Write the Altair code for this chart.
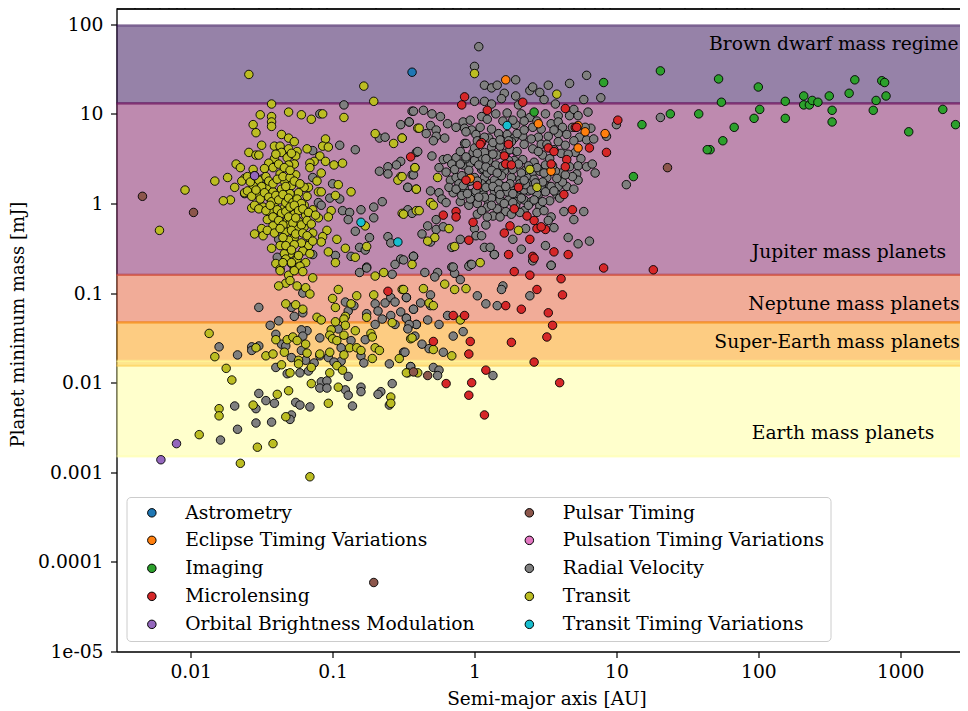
import altair as alt
import pandas as pd

# All pairs are (log10 semi-major axis [AU], log10 minimum mass [mJ]).
astrometry = [(-0.44,1.465)]
etv = [(0.22,1.38),(0.45,0.89),(0.73,0.87),(0.78,0.80),(0.92,0.78),(0.73,0.62),(0.54,0.36),(-0.03,0.28)]
imaging = [(1.31,1.48),(1.72,1.39),(2.00,1.30),(1.74,1.13),(1.38,1.00),(1.58,1.00),(2.01,1.05),(1.97,0.95),(1.83,0.85),(1.75,0.70),(1.66,0.60),(1.64,0.60),(1.18,0.88),(2.19,1.14),(2.19,0.95),(2.32,1.20),(2.32,1.10),(2.36,1.10),(2.38,1.15),(2.42,1.13),(2.50,1.20),(2.52,1.04),(2.52,0.91),(2.64,1.23),(2.68,1.38),(2.87,1.37),(2.89,1.35),(2.90,1.20),(2.83,1.15),(2.81,1.04),(3.30,1.05),(3.39,0.88),(3.06,0.80),(0.91,1.35),(1.12,0.30),(0.42,1.02)]
microlensing = [(-0.07,1.19),(-0.09,1.10),(0.09,1.04),(0.34,1.13),(0.64,1.06),(1.01,0.93),(0.71,0.85),(0.72,0.85),(0.05,0.68),(0.04,0.66),(0.24,0.66),(0.52,0.62),(0.56,0.58),(0.81,0.62),(0.93,0.57),(0.21,0.53),(0.22,0.44),(0.26,0.43),(0.65,0.49),(0.54,0.44),(0.64,0.41),(-0.45,0.52),(-0.06,0.26),(0.02,0.20),(0.31,0.18),(0.63,0.10),(0.69,-0.07),(0.28,-0.06),(0.37,-0.14),(0.42,-0.19),(-0.22,-0.13),(-0.13,-0.09),(-0.13,-0.15),(-0.01,-0.21),(0.25,-0.25),(0.21,-0.33),(0.44,-0.28),(0.50,-0.29),(0.47,-0.26),(0.39,-0.40),(-0.04,-0.41),(0.56,-0.54),(0.24,-0.57),(0.41,-0.59),(0.42,-0.61),(0.66,-0.57),(0.28,-0.76),(0.91,-0.72),(1.26,-0.74),(-0.61,-0.98),(0.39,-0.80),(0.61,-0.84),(0.44,-0.96),(0.62,-1.02),(0.22,-1.14),(0.33,-1.18),(0.52,-1.22),(-0.15,-1.25),(-0.07,-1.25),(0.55,-1.36),(0.51,-1.49),(-0.29,-1.54),(-0.03,-1.54),(0.26,-1.55),(-0.04,-1.68),(0.42,-1.77),(0.08,-1.86),(-0.20,-2.01),(-0.02,-2.00),(0.60,-2.00),(-0.04,-2.14),(0.07,-2.36)]
obm = [(-1.55,0.31),(-2.10,-2.68),(-2.21,-2.86)]
pulsar = [(-2.34,0.08),(-1.98,-0.10),(1.36,0.40),(-0.71,-4.23),(-0.43,-1.88),(-0.33,-1.92)]
pulsation = [(0.25,0.52)]
ttv = [(0.23,0.87),(-0.80,-0.21),(-0.54,-0.43)]
transit = [(-1.59,1.44),(-0.78,1.31),(-0.71,1.14),(-1.43,1.11),(-1.51,0.99),(-1.43,0.97),(-1.43,0.91),(-1.43,0.86),(-1.56,0.88),(-1.54,0.79),(-1.31,1.02),(-1.22,0.99),(-1.15,0.94),(-1.07,1.00),(-0.92,0.96),(-1.36,0.77),(-1.31,0.73),(-1.27,0.69),(-1.50,0.65),(-1.59,0.57),(-1.54,0.54),(-1.52,0.54),(-1.41,0.64),(-1.37,0.64),(-1.31,0.61),(-1.25,0.58),(-1.36,0.57),(-1.26,0.53),(-1.32,0.51),(-1.41,0.50),(-1.45,0.45),(-1.18,0.61),(-1.05,0.72),(-1.07,0.64),(-1.03,0.63),(-1.09,0.53),(-1.13,0.47),(-1.16,0.45),(-1.05,0.47),(-1.16,0.40),(-0.99,0.43),(-0.93,0.45),(-1.27,0.44),(-1.31,0.43),(-1.68,0.44),(-1.65,0.40),(-1.56,0.38),(-1.48,0.39),(-1.37,0.33),(-1.26,0.32),(-1.74,0.29),(-1.83,0.25),(-1.08,0.34),(-1.11,0.25),(-0.96,0.21),(-1.62,0.28),(-1.64,0.25),(-1.56,0.20),(-1.46,0.19),(-1.34,0.25),(-1.69,0.18),(-1.29,0.20),(-1.17,0.18),(-1.20,0.18),(-1.10,0.13),(-1.08,0.13),(-0.87,0.13),(-0.98,0.09),(-1.36,0.16),(-1.42,0.13),(-1.62,0.12),(-1.56,0.10),(-1.52,0.10),(-1.72,0.04),(-1.77,0.03),(-2.04,0.15),(-2.22,-0.30),(-1.57,-0.05),(-1.49,-0.04),(-1.41,-0.03),(-1.34,-0.05),(-1.27,0.07),(-1.24,0.12),(-1.30,0.11),(-1.20,-0.02),(-1.14,-0.07),(-1.01,-0.08),(-1.10,-0.16),(-1.03,-0.15),(-1.19,-0.13),(-1.27,-0.12),(-1.40,-0.14),(-1.44,-0.09),(-1.32,-0.19),(-1.24,-0.20),(-1.30,-0.23),(-1.42,-0.25),(-1.50,-0.28),(-1.55,-0.34),(-1.49,-0.36),(-1.33,-0.32),(-1.24,-0.28),(-1.14,-0.33),(-1.20,-0.26),(-1.04,-0.30),(-1.27,-0.38),(-1.16,-0.39),(-1.07,-0.37),(-0.97,-0.40),(-1.08,-0.43),(-1.31,-0.41),(-1.37,-0.47),(-1.43,-0.50),(-1.17,-0.47),(-1.21,-0.53),(-1.03,-0.54),(-0.91,-0.50),(-0.76,-0.48),(-0.84,-0.60),(-0.98,-0.66),(-1.30,-0.56),(-1.34,-0.56),(-1.25,-0.62),(-1.19,-0.66),(-1.40,-0.67),(-1.27,-0.73),(-1.37,-0.73),(-1.23,-0.70),(-0.77,-0.25),(-0.51,-0.11),(-0.41,-0.08),(-0.52,0.30),(-0.54,0.26),(-0.42,0.40),(-0.41,0.16),(-0.70,0.78),(-0.57,0.67),(-0.51,0.73),(-0.40,0.84),(-0.44,-0.68),
(-1.37,-0.75),(-1.31,-0.80),(-1.27,-0.75),(-1.14,-0.83),(-1.33,-0.89),(-1.38,-0.92),(-1.25,-0.92),(-1.19,-0.94),(-1.16,-1.01),(-0.96,-0.96),(-1.00,-1.06),(-0.83,-1.03),(-0.71,-1.02),(-0.51,-0.96),(-0.70,-0.81),(-0.64,-0.77),(-1.33,-1.12),(-1.26,-1.13),(-1.21,-1.18),(-0.98,-1.16),(-0.87,-1.12),(-1.11,-1.27),(-1.08,-1.30),(-0.98,-1.32),(-0.91,-1.26),(-0.92,-1.29),(-0.76,-1.27),(-0.58,-1.33),(-0.91,-1.36),(-1.01,-1.41),(-1.02,-1.47),(-1.87,-1.45),(-0.84,-1.42),(-0.92,-1.47),(-0.73,-1.45),(-0.72,-1.49),(-0.45,-1.51),(-1.40,-1.52),(-1.32,-1.52),(-1.28,-1.49),(-1.25,-1.53),(-1.19,-1.57),(-1.00,-1.51),(-0.97,-1.53),(-1.54,-1.61),(-0.88,-1.61),(-0.83,-1.61),(-0.80,-1.64),(-0.70,-1.61),(-0.67,-1.64),(-1.34,-1.66),(-1.18,-1.67),(-1.09,-1.68),(-1.02,-1.66),(-0.92,-1.69),(-1.47,-1.70),(-1.42,-1.68),(-1.83,-1.71),(-0.72,-1.73),(-0.53,-1.73),(-1.24,-1.75),(-1.24,-1.79),(-1.36,-1.80),(-1.15,-1.83),(-0.97,-1.81),(-0.93,-1.86),(-1.02,-1.89),(-1.30,-1.89),(-1.75,-1.84),(-1.71,-1.97),(-0.47,-1.89),(-1.15,-2.01),(-0.96,-2.05),(-1.31,-2.09),(-1.39,-2.13),(-0.59,-2.16),(-0.59,-2.23),(-1.03,-2.23),(-1.56,-2.25),(-1.80,-2.29),(-1.80,-2.37),(-1.33,-2.38),(-1.94,-2.58),(-1.53,-2.72),(-1.42,-2.68),(-1.65,-2.90),(-1.16,-3.05),
(0.04,-0.66),(-0.21,-0.90),(-0.14,-0.96),(-0.06,-0.95),(-0.36,-0.95),(-0.50,-0.96),(-0.32,-1.11),(-0.29,-1.14),(-0.10,-1.30),(-0.44,-1.50),(-0.29,-1.63),(-0.16,-1.70),(-0.48,-1.89),(-0.40,-1.89),
(0.00,1.45),(0.58,1.22),(-0.39,0.84),(-0.51,0.73),(-0.42,0.40),(-0.26,0.29),(0.39,0.38),(0.44,0.18),(-0.41,0.16),(-0.51,0.30),(-0.31,0.01),(-0.29,-0.02),(-0.39,-0.08),(-0.50,-0.12),(-0.18,-0.28),(0.31,-0.30),(-0.28,-0.38),(-0.33,-0.42),(-0.14,-0.48),
(-1.60,0.30),(-1.58,0.24),(-1.55,0.31),(-1.52,0.26),(-1.50,0.19),(-1.47,0.30),(-1.45,0.25),(-1.42,0.22),(-1.39,0.27),(-1.35,0.30),(-1.33,0.19),(-1.30,0.29),(-1.27,0.25),(-1.23,0.22),(-1.60,0.14),(-1.57,0.08),(-1.54,0.15),(-1.51,0.05),(-1.48,0.12),(-1.45,0.07),(-1.43,0.02),(-1.40,0.09),(-1.38,0.04),(-1.35,0.10),(-1.33,0.01),(-1.31,0.06),(-1.28,0.01),(-1.25,0.05),(-1.22,0.00),(-1.18,0.08),(-1.55,-0.02),(-1.52,-0.06),(-1.47,-0.08),(-1.44,-0.02),(-1.39,-0.07),(-1.36,-0.11),(-1.33,-0.09),(-1.30,-0.04),(-1.27,-0.02),(-1.24,-0.08),(-1.21,-0.06),(-1.17,-0.10),(-1.46,-0.18),(-1.42,-0.15),(-1.38,-0.19),(-1.35,-0.24),(-1.31,-0.15),(-1.28,-0.22),(-1.26,-0.16),(-1.22,-0.24),(-1.18,-0.19),(-1.15,-0.23),(-1.12,-0.13),(-1.46,-0.30),(-1.41,-0.33),(-1.37,-0.28),(-1.35,-0.38),(-1.29,-0.30),(-1.26,-0.34),(-1.21,-0.33),(-1.18,-0.36),(-1.14,-0.42),(-1.22,-0.44),(-1.27,-0.46),(-1.33,-0.47),(-1.29,-0.52),(-1.24,-0.58),(-1.16,-0.56),(-1.33,-0.62),(-1.29,-0.66),(-1.35,-0.66),(-1.21,-0.76),(-1.30,-0.86),(-1.42,0.40),(-1.38,0.44),(-1.34,0.40),(-1.30,0.37),(-1.40,0.55),(-1.29,0.56)]
radial_velocity = [(-0.92,1.10),(-1.09,1.00),(-0.44,1.03),(-0.52,0.88),(-0.46,0.91),(-0.67,0.73),(-0.63,0.74),(-0.95,0.65),(-0.84,0.60),(-1.14,0.59),(-0.41,0.57),(-0.52,0.47),(-0.55,0.43),(-0.61,0.41),(-0.67,0.36),(-0.61,0.33),(-0.44,0.32),(-0.47,0.18),(-1.14,0.29),(-1.49,0.28),(-1.00,0.22),(-1.02,0.06),(-0.95,0.05),(-1.10,0.01),(-1.08,-0.02),(-0.65,0.02),(-0.71,-0.04),(-0.80,-0.07),(-0.93,-0.08),(-0.88,-0.10),(-0.89,-0.18),(-0.71,-0.16),(-0.47,-0.07),(-0.44,-0.11),(-0.84,-0.31),(-0.74,-0.38),(-0.61,-0.37),(-0.59,-0.44),(-0.81,-0.49),(-0.77,-0.52),(-0.87,-0.59),(-0.98,-0.58),(-1.14,-0.57),(-1.38,-0.34),(-1.38,-0.40),(-1.39,-0.60),(-1.29,-0.67),(-0.43,-0.59),(-0.52,-0.62),(-0.56,-0.68),(-0.76,-0.71),(-0.81,-0.77),(-1.62,0.11),(-1.17,-0.47),
(-0.76,-0.72),(-0.58,-0.79),(-1.52,-1.16),(-1.29,-1.16),(-1.27,-1.26),(-1.21,-1.22),(-1.21,-1.00),(-0.91,-1.10),(-0.89,-1.20),(-0.85,-1.14),(-0.70,-1.12),(-0.63,-1.11),(-0.59,-1.05),(-0.56,-1.10),(-0.48,-1.05),(-0.43,-1.18),(-0.68,-1.20),(-0.76,-1.23),(-0.52,-1.21),(-0.59,-1.25),(-0.48,-1.28),(-0.65,-1.29),(-0.70,-1.35),(-0.56,-1.35),(-0.46,-1.36),(-0.41,-1.35),(-1.44,-1.36),(-1.38,-1.31),(-1.18,-1.42),(-1.22,-1.41),(-1.40,-1.46),(-1.80,-1.60),(-1.67,-1.69),(-1.57,-1.60),(-1.57,-1.64),(-1.52,-1.59),(-1.36,-1.57),(-1.33,-1.59),(-1.21,-1.48),(-1.09,-1.50),(-0.96,-1.40),(-0.87,-1.53),(-0.94,-1.61),(-1.22,-1.64),(-1.29,-1.72),(-1.19,-1.75),(-1.13,-1.78),(-1.09,-1.70),(-1.03,-1.72),(-0.94,-1.76),(-0.99,-1.77),(-0.77,-1.52),(-0.80,-1.70),(-0.78,-1.78),(-0.60,-1.79),(-0.50,-1.66),(-1.40,-1.83),(-1.32,-1.90),(-1.23,-1.89),(-1.17,-1.87),(-0.89,-1.93),(-0.45,-1.82),(-1.08,-1.99),(-1.04,-1.98),(-1.09,-2.06),(-1.04,-2.06),(-0.91,-2.08),(-0.80,-2.05),(-0.80,-2.10),(-0.89,-2.14),(-0.58,-2.01),(-0.66,-2.10),(-0.68,-2.13),(-1.52,-2.12),(-1.47,-2.20),(-1.41,-2.23),(-1.26,-2.22),(-1.23,-2.25),(-1.16,-2.27),(-0.86,-2.26),(-0.60,-2.25),(-1.69,-2.26),(-1.54,-2.29),(-1.29,-2.36),(-1.30,-2.41),(-1.54,-2.45),(-1.43,-2.44),(-1.67,-2.52),(-1.79,-2.64),
(-0.43,-0.59),(0.14,-0.57),(0.41,-0.64),(0.54,-0.69),(-0.16,-0.71),(-0.03,-0.68),(-0.04,-0.70),(-0.35,-0.77),(-0.26,-0.77),(-0.28,-0.82),(-0.14,-0.78),(-0.10,-0.85),(0.20,-0.92),(0.19,-0.96),(0.02,-1.03),(-0.31,-1.02),(-0.48,-1.05),(0.39,-1.03),(0.08,-1.12),(0.16,-1.14),(-0.38,-1.11),(-0.43,-1.18),(-0.19,-1.25),(-0.48,-1.28),(-0.33,-1.30),(-0.25,-1.35),(-0.41,-1.35),(-0.46,-1.35),(-0.47,-1.40),(-0.08,-1.43),(-0.15,-1.48),(-0.42,-1.48),(-0.37,-1.57),(-0.32,-1.62),(-0.22,-1.66),(-0.49,-1.66),(-0.45,-1.82),(-0.29,-1.83),(-0.25,-1.86),(-0.26,-1.92),(0.13,-1.92),(-0.31,-1.14),
(0.03,1.75),(0.00,1.53),(0.29,1.38),(0.07,1.32),(0.12,1.29),(0.16,1.32),(0.21,1.23),(0.19,1.17),(0.29,1.20),(0.39,1.26),(0.41,1.30),(0.46,1.24),(0.49,1.16),(0.52,1.32),(0.67,1.34),(0.79,1.43),(0.77,1.16),(0.89,1.18),(0.57,1.11),(0.00,1.14),(0.07,1.14),(0.12,1.11),(0.31,1.10),(0.33,1.00),(0.23,1.01),(0.15,1.00),(0.05,0.97),(0.09,0.94),(-0.43,1.03),(-0.36,1.04),(-0.30,1.00),(-0.24,0.97),(-0.46,0.91),(-0.31,0.87),(-0.27,0.82),(-0.34,0.78),(-0.21,0.73),(-0.27,0.75),(-0.29,0.70),(-0.19,0.89),(-0.13,0.85),(-0.08,0.91),(-0.03,0.93),(-0.07,0.84),(-0.02,0.82),(0.01,0.77),(0.04,0.85),(0.12,0.83),(-0.07,0.67),(-0.06,0.67),(-0.40,0.58),(-0.30,0.53),(-0.22,0.49),(-0.19,0.50),(-0.13,0.51),(-0.16,0.44),(-0.08,0.43),(-0.03,0.45),(-0.01,0.57),(0.12,0.63),(0.04,0.50),(0.05,0.38),(0.10,0.48),(0.15,0.43),(0.16,0.54),(-0.43,0.32),(-0.47,0.18),(-0.17,0.26),(-0.13,0.29),(-0.11,0.22),(-0.07,0.16),(-0.31,0.14),(-0.25,0.12),(-0.23,0.05),(-0.20,0.01),(-0.15,0.12),(-0.10,0.02),(-0.04,-0.02),(0.02,0.00),(0.02,-0.12),(-0.02,0.11),(0.06,0.11),(0.10,0.01),(0.15,0.09),(0.11,0.22),(0.07,0.29),(0.14,0.26),(0.21,0.36),(0.20,0.19),(0.24,0.04),(0.30,0.09),(0.35,0.04),(0.38,0.14),(0.45,0.10),(0.53,0.19),(0.59,0.19),
(0.29,0.88),(0.23,0.77),(0.28,0.73),(0.34,0.75),(0.35,0.66),(0.41,0.61),(0.45,0.74),(0.41,0.85),(0.39,0.96),(0.50,1.00),(0.54,0.89),(0.59,0.98),(0.59,0.91),(0.62,0.85),(0.59,0.78),(0.67,0.98),(0.70,1.05),(0.73,0.98),(0.80,1.02),(0.82,0.84),(0.74,0.74),(0.79,0.71),(0.84,0.72),(0.93,0.75),(1.00,0.88),(0.47,0.66),(0.59,0.69),(0.64,0.65),(0.61,0.56),(0.71,0.57),(0.75,0.50),(0.48,0.54),(0.42,0.46),(0.34,0.49),(0.28,0.48),(0.41,0.35),(0.32,0.27),(0.26,0.29),(0.37,0.29),(0.50,0.43),(0.67,0.41),(0.73,0.42),(0.79,0.41),(0.83,0.44),(0.85,0.34),(0.72,0.33),(0.61,0.34),(0.65,0.19),(0.70,0.16),(0.73,0.26),(0.51,0.29),(0.54,0.19),(0.47,0.18),(0.44,0.11),(0.39,0.22),(0.26,0.15),(0.14,0.14),(0.04,0.18),(0.06,0.39),(0.19,0.31),(0.25,0.22),(0.32,0.16),(0.35,0.15),(0.46,-0.03),(0.53,0.03),(0.16,-0.06),(0.22,-0.09),(0.13,-0.14),(0.08,-0.24),(-0.33,-0.25),(-0.27,-0.18),(-0.27,-0.29),(-0.22,-0.26),(-0.37,-0.34),(-0.31,-0.43),(-0.10,-0.40),(0.00,-0.28),(0.01,-0.36),(0.05,-0.36),(0.56,-0.27),(0.54,-0.15),(0.52,-0.19),(0.63,-0.09),(0.77,-0.09),(0.70,-0.18),(0.66,-0.38),(0.73,-0.45),(0.81,-0.42),(0.27,-0.40),(0.36,-0.28),(0.50,-0.47),(0.33,-0.51),(0.07,-0.49),(0.11,-0.49),(0.14,-0.57),(-0.16,-0.49),(0.54,-0.69),(-0.50,-0.63),(-0.43,-0.59),(-0.15,-0.71),(-0.02,-0.68),(1.31,0.96),(1.07,0.21),
(0.00,0.29),(-0.04,0.37),(-0.09,0.31),(0.05,0.22),(0.01,0.14),(-0.05,0.24),(0.09,0.34),(0.17,0.22),(0.12,0.06),(0.18,0.04),(0.23,0.13),(0.30,0.02),(0.36,0.21),(0.42,0.27),(0.46,0.36),(0.48,0.24),(0.57,0.36),(0.62,0.24),(0.69,0.30),(0.36,0.37),(0.31,0.44),(0.22,0.56),(0.18,0.64),(0.25,0.60),(0.07,0.57),(0.00,0.62),(0.30,0.58),(0.45,0.58),(0.52,0.75),(0.40,0.72),(0.53,0.50),(0.66,0.55),(0.10,0.73),(0.17,0.78),(0.07,0.07),(0.40,0.02),(0.29,-0.03),(0.35,-0.08),(-0.03,0.05),(0.58,0.10),
(-0.25,0.40),(-0.20,0.35),(-0.14,0.38),(-0.10,0.44),(-0.06,0.50),(0.00,0.48),(0.03,0.43),(0.08,0.41),(0.12,0.37),(0.16,0.34),(0.20,0.42),(0.24,0.48),(0.27,0.38),(0.33,0.34),(0.38,0.42),(0.44,0.40),(0.49,0.34),(0.55,0.42),(0.58,0.28),(0.64,0.32),(-0.18,0.18),(-0.13,0.16),(-0.08,0.20),(-0.03,0.25),(0.02,0.25),(0.08,0.18),(0.13,0.19),(0.17,0.15),(0.22,0.19),(0.27,0.11),(0.32,0.22),(0.35,0.26),(0.40,0.15),(0.43,0.23),(0.50,0.13),(0.56,0.14),(0.60,0.06),(-0.09,0.09),(-0.05,0.11),(0.03,0.07),(0.09,-0.04),(0.12,-0.02),(0.18,0.10),(0.21,0.00),(0.27,0.01),(0.33,0.06),(0.38,-0.02),(0.42,0.04),(0.48,0.02),(0.05,-0.08),(0.09,-0.15),(0.18,-0.15),(0.26,-0.12),(0.32,-0.10),(0.44,-0.10),(0.49,-0.08),(-0.06,0.80),(0.02,0.70),(0.07,0.74),(0.13,0.68),(0.18,0.71),(0.26,0.69),(0.30,0.78),(0.35,0.82),(0.20,0.92),(0.27,0.93),(0.35,0.92),(0.44,0.92),(0.47,0.83),(0.56,0.82),(0.51,0.66),(0.56,0.60),(0.65,0.77),(0.70,0.70),(0.69,0.85),(0.78,0.85),(0.08,0.50),(0.13,0.55),(-0.10,0.58),(-0.06,0.52),(0.02,0.56),(0.24,0.70)]

ORDER = ["Astrometry","Eclipse Timing Variations","Imaging","Microlensing","Orbital Brightness Modulation","Pulsar Timing","Pulsation Timing Variations","Radial Velocity","Transit","Transit Timing Variations"]
COLORS = ["#1f77b4","#ff7f0e","#2ca02c","#d62728","#9467bd","#8c564b","#e377c2","#7f7f7f","#bcbd22","#17becf"]

draw = [("Pulsation Timing Variations",pulsation),("Radial Velocity",radial_velocity),("Transit",transit),
        ("Astrometry",astrometry),("Eclipse Timing Variations",etv),("Imaging",imaging),("Microlensing",microlensing),
        ("Orbital Brightness Modulation",obm),("Pulsar Timing",pulsar),("Transit Timing Variations",ttv)]
rows = [{"a":10**p[0],"m":10**p[1],"method":n} for n,pts in draw for p in pts]
df = pd.DataFrame(rows)

band_top = [97,13.1,0.16,0.047,0.0175]
band_low = [13.1,0.16,0.047,0.0154,0.0015]
band_col = ["#2D0551","#7D155F","#E35931","#FB9905","#FFFF99"]
bands = pd.DataFrame({"x0":[1e-4]*5,"x1":[1e5]*5,"top":band_top,"low":band_low,"c":band_col})

label_text = ["Brown dwarf mass regime","Jupiter mass planets","Neptune mass planets","Super-Earth mass planets","Earth mass planets"]
label_a = [45,90,85,49,90]
label_m = [60,0.29,0.076,0.0286,0.00275]
labels = pd.DataFrame({"a":label_a,"m":label_m,"t":label_text})

XDOM=[0.003,2638]
YDOM=[1e-5,150]
FONT="DejaVu Serif"
FS=18.7
xs=alt.Scale(type="log",domain=XDOM,nice=False)
ys=alt.Scale(type="log",domain=YDOM,nice=False)
xmajor=[0.01,0.1,1,10,100,1000]
xminor=[k*10**d for d in range(-3,4) for k in range(2,10)]
xminor=[v for v in xminor if XDOM[0]<=v<=XDOM[1]]
yticks=[1e-5,1e-4,1e-3,1e-2,1e-1,1,10,100]
yminor=[k*10**d for d in range(-5,3) for k in range(2,10)]
yminor=[v for v in yminor if YDOM[0]<=v<=YDOM[1]]

common=dict(labelFont=FONT,titleFont=FONT,labelFontSize=FS,titleFontWeight="normal",labelColor="black",titleColor="black",tickColor="black",domainColor="black",tickSize=6,tickWidth=1.2,domainWidth=1.3,grid=False,labelOverlap=False)
xaxis=alt.Axis(values=xmajor,title="Semi-major axis [AU]",titleFontSize=18.5,labelPadding=5,titlePadding=8,titleX=430,labelExpr="''+datum.value",labelFlush=False,**common)
xaxis2=alt.Axis(values=xminor,title=None,labels=False,tickColor="black",domainColor="black",tickSize=3.5,tickWidth=1,grid=False)
xaxis_top=alt.Axis(orient="top",title=None,labels=False,ticks=False,domainColor="black",domainWidth=1.3,grid=False)
yaxis=alt.Axis(values=yticks,title="Planet minimum mass [mJ]",titleFontSize=18,labelPadding=7.5,titlePadding=10.5,titleY=315.5,labelExpr="datum.value<0.00005?'1e-05':''+datum.value",**common)
yaxis2=alt.Axis(values=yminor,title=None,labels=False,tickColor="black",domainColor="black",tickSize=3.5,tickWidth=1,grid=False)

band_layer=alt.Chart(bands).mark_rect(clip=True,fillOpacity=0.5,strokeOpacity=0.5,strokeWidth=2.2).encode(
    x=alt.X("x0:Q",scale=xs,axis=xaxis),x2="x1:Q",
    y=alt.Y("top:Q",scale=ys,axis=yaxis),y2="low:Q",
    fill=alt.Fill("c:N",scale=None),stroke=alt.Stroke("c:N",scale=None))
legend=alt.Legend(title=None,orient="none",legendX=10,legendY=488.5,direction="vertical",columns=2,
    strokeColor="#cccccc",cornerRadius=4,padding=6,
    labelFont=FONT,labelFontSize=FS,labelColor="black",labelLimit=400,
    symbolType="circle",symbolSize=72,symbolStrokeColor="black",symbolStrokeWidth=1,symbolOpacity=1,
    symbolOffset=10,labelOffset=24,rowPadding=8,columnPadding=34.5,
    values=ORDER)
pts=alt.Chart(df).mark_circle(size=72,opacity=1,stroke="black",strokeWidth=0.9).encode(
    x=alt.X("a:Q",scale=xs,axis=xaxis2),
    y=alt.Y("m:Q",scale=ys,axis=yaxis2),
    color=alt.Color("method:N",scale=alt.Scale(domain=ORDER,range=COLORS),legend=legend))
txt=alt.Chart(labels).mark_text(font=FONT,fontSize=FS,align="left",baseline="middle",color="black",clip=True).encode(
    x=alt.X("a:Q",scale=xs,axis=xaxis_top),y=alt.Y("m:Q",scale=ys,axis=None),text="t:N")

chart=alt.layer(band_layer,pts,txt).resolve_axis(x="independent",y="independent").properties(
    width=843.5,height=643,
    autosize=alt.AutoSizeParams(type="none"),
    padding={"left":108.5,"top":0.5,"right":0,"bottom":59.5}
).configure_view(stroke=None).configure(background="white")
chart.save("out.html",embed_options={"renderer":"svg","actions":False})
